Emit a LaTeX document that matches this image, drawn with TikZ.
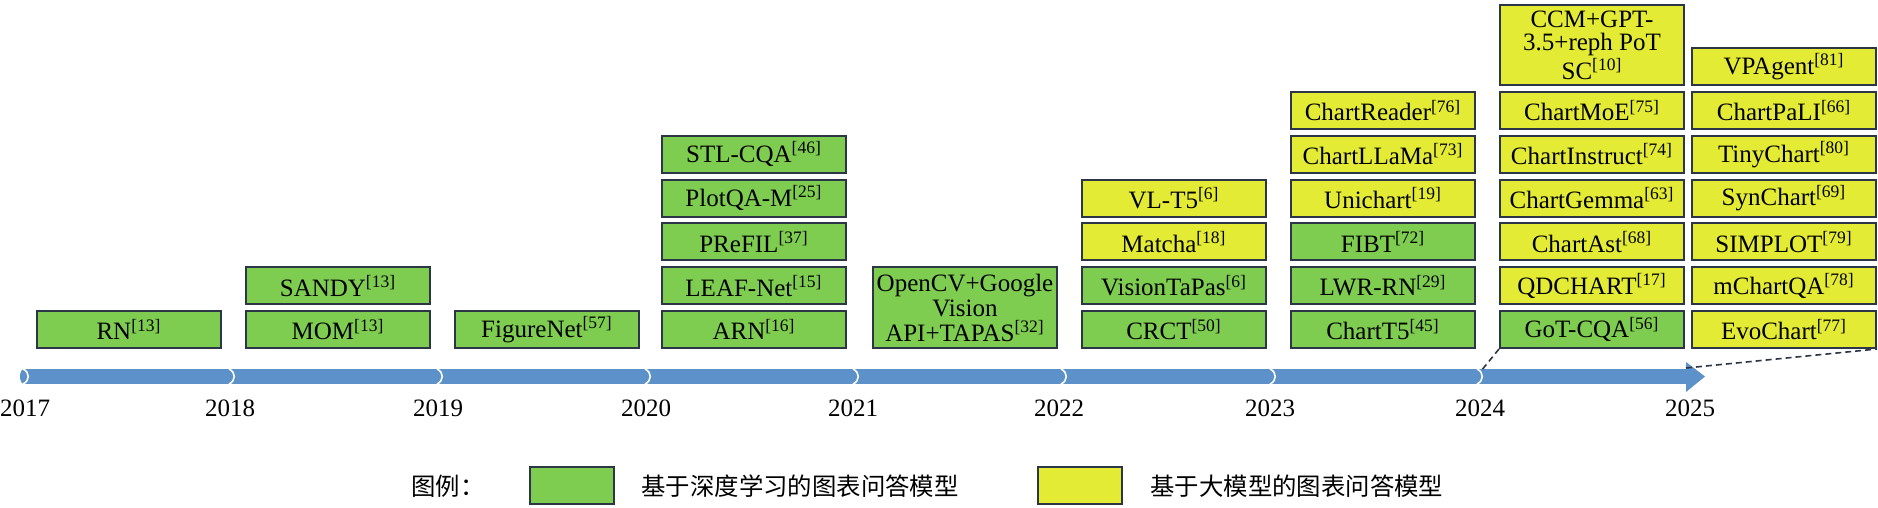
\documentclass[tikz,border=0pt]{standalone}
\usepackage{fontspec}
\setmainfont{Liberation Serif}
\newfontfamily\cjk{Noto Sans CJK SC}
\definecolor{gfill}{RGB}{126,205,81}
\definecolor{yfill}{RGB}{228,235,52}
\definecolor{bdr}{RGB}{44,54,70}
\definecolor{barblue}{RGB}{93,145,201}
\newcommand{\rf}[1]{\textsuperscript{[#1]}}
\tikzset{
  mbox/.style={draw=bdr, line width=1pt, inner sep=0pt, minimum width=92pt, minimum height=18.5pt,
    align=center, font=\fontsize{12.5}{11.8}\selectfont},
  gbox/.style={mbox, fill=gfill},
  ybox/.style={mbox, fill=yfill},
  yearlbl/.style={inner sep=0pt, font=\fontsize{12.5}{14}\selectfont},
  legtxt/.style={inner sep=0pt, font=\cjk\fontsize{12.2}{14}\selectfont},
  legbox/.style={draw=bdr, line width=1pt, inner sep=0pt, minimum width=42pt, minimum height=18.5pt},
  dashline/.style={draw=bdr, line width=0.8pt, dash pattern=on 3pt off 2pt},
  sepline/.style={draw=white, line width=0.8pt}
}
\begin{document}
\begin{tikzpicture}[x=0.5pt,y=-0.5pt]
\useasboundingbox (0,0) rectangle (1878,508);
% timeline bar
\fill[barblue] (24,369) rectangle (1687,384);
\fill[barblue] (24,376.5) ellipse [x radius=4, y radius=7.5];
\fill[barblue] (1686,362) -- (1705,376.5) -- (1686,392) -- cycle;
\foreach \s in {26,232,440,648,856,1064,1273,1480}{
  \draw[sepline] (\s-3,369) .. controls (\s+4,372) and (\s+4,381) .. (\s-3,384);
}
% year labels
\node[yearlbl] (y17) at (25,408) {2017};
\node[yearlbl] (y18) at (230,408) {2018};
\node[yearlbl] (y19) at (438,408) {2019};
\node[yearlbl] (y20) at (646,408) {2020};
\node[yearlbl] (y21) at (853,408) {2021};
\node[yearlbl] (y22) at (1059,408) {2022};
\node[yearlbl] (y23) at (1270,408) {2023};
\node[yearlbl] (y24) at (1480,408) {2024};
\node[yearlbl] (y25) at (1690,408) {2025};
% 2017
\node[gbox] (rn) at (129,329.5) {RN\rf{13}};
% 2018
\node[gbox] (mom) at (338,329.5) {MOM\rf{13}};
\node[gbox] (sandy) at (338,285.7) {SANDY\rf{13}};
% 2019
\node[gbox] (fig) at (547,329.5) {FigureNet\rf{57}};
% 2020
\node[gbox] (arn) at (754,329.5) {ARN\rf{16}};
\node[gbox] (leaf) at (754,285.7) {LEAF-Net\rf{15}};
\node[gbox] (prefil) at (754,241.9) {PReFIL\rf{37}};
\node[gbox] (plotqa) at (754,198.1) {PlotQA-M\rf{25}};
\node[gbox] (stl) at (754,154.3) {STL-CQA\rf{46}};
% 2021
\node[gbox, minimum height=40.5pt, font=\fontsize{12.5}{12.5}\selectfont] (ocv) at (965,307.5) {OpenCV+Google\\Vision\\API+TAPAS\rf{32}};
% 2022
\node[gbox] (crct) at (1174,329.5) {CRCT\rf{50}};
\node[gbox] (vtp) at (1174,285.7) {VisionTaPas\rf{6}};
\node[ybox] (matcha) at (1174,241.9) {Matcha\rf{18}};
\node[ybox] (vlt5) at (1174,198.1) {VL-T5\rf{6}};
% 2023
\node[gbox] (ct5) at (1383,329.5) {ChartT5\rf{45}};
\node[gbox] (lwr) at (1383,285.7) {LWR-RN\rf{29}};
\node[gbox] (fibt) at (1383,241.9) {FIBT\rf{72}};
\node[ybox] (uni) at (1383,198.1) {Unichart\rf{19}};
\node[ybox] (llama) at (1383,154.3) {ChartLLaMa\rf{73}};
\node[ybox] (reader) at (1383,110.5) {ChartReader\rf{76}};
% 2024
\node[gbox] (got) at (1592,329.5) {GoT-CQA\rf{56}};
\node[ybox] (qd) at (1592,285.7) {QDCHART\rf{17}};
\node[ybox] (ast) at (1592,241.9) {ChartAst\rf{68}};
\node[ybox] (gemma) at (1592,198.1) {ChartGemma\rf{63}};
\node[ybox] (instr) at (1592,154.3) {ChartInstruct\rf{74}};
\node[ybox] (moe) at (1592,110.5) {ChartMoE\rf{75}};
\node[ybox, minimum height=40pt] (ccm) at (1592,45) {CCM+GPT-\\3.5+reph PoT\\SC\rf{10}};
% 2025
\node[ybox] (evo) at (1784,329.5) {EvoChart\rf{77}};
\node[ybox] (mcqa) at (1784,285.7) {mChartQA\rf{78}};
\node[ybox] (simplot) at (1784,241.9) {SIMPLOT\rf{79}};
\node[ybox] (syn) at (1784,198.1) {SynChart\rf{69}};
\node[ybox] (tiny) at (1784,154.3) {TinyChart\rf{80}};
\node[ybox] (pali) at (1784,110.5) {ChartPaLI\rf{66}};
\node[ybox] (vpa) at (1784,66.7) {VPAgent\rf{81}};
% dashed zoom lines
\coordinate (s24) at (1481,371);
\coordinate (tipc) at (1686,368);
\draw[dashline] (got.south west) -- (s24);
\draw[dashline] (tipc) -- (evo.south east);
% legend
\node[legtxt] (legtitle) at (448,486) {图例：};
\node[legbox, fill=gfill] (leggbox) at (572,485.5) {};
\node[legtxt, anchor=west] (leggtxt) at (641,486) {基于深度学习的图表问答模型};
\node[legbox, fill=yfill] (legybox) at (1080,485.5) {};
\node[legtxt, anchor=west] (legytxt) at (1150,486) {基于大模型的图表问答模型};
\end{tikzpicture}
\end{document}
